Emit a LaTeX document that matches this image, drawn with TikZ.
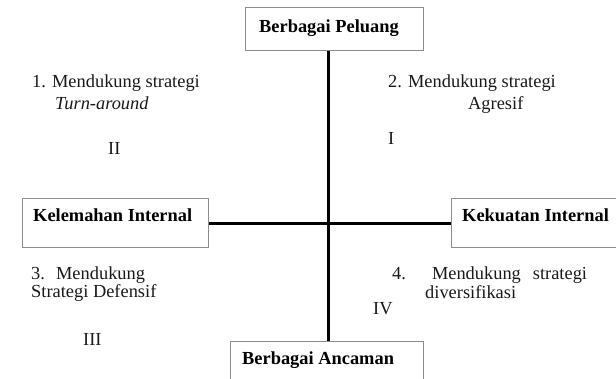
\documentclass[tikz,border=0pt]{standalone}
\usepackage{fontspec}
\setmainfont{Liberation Serif}
\definecolor{boxgray}{RGB}{140,140,140}
\definecolor{ink}{RGB}{25,25,25}
\begin{document}
\begin{tikzpicture}[x=1pt,y=-1pt,
  box/.style={draw=boxgray, line width=1.2pt, fill=white, rectangle, inner sep=0pt, anchor=north west},
  lbl/.style={anchor=base west, inner sep=0pt, text=ink, font=\fontsize{18.4}{22}\selectfont},
  blbl/.style={anchor=base west, inner sep=0pt, text=black, font=\fontsize{18.4}{22}\selectfont\bfseries},
  axisline/.style={line width=3pt, black}]
\useasboundingbox (0,0) rectangle (616,379);
% boxes
\node[box, minimum width=178pt, minimum height=43pt] (top) at (245,7) {};
\node[box, minimum width=186pt, minimum height=49pt] (left) at (22,198) {};
\node[box, minimum width=180pt, minimum height=49pt] (right) at (451,198) {};
\node[box, minimum width=193pt, minimum height=60pt] (bot) at (230,341) {};
% axes
\coordinate (cx) at (328,0);
\coordinate (cy) at (0,224);
\draw[axisline] (top.south -| cx) -- (bot.north -| cx);
\draw[axisline] (left.east |- cy) -- (right.west |- cy);
% box labels
\node[blbl] (tlab) at (259,33) {Berbagai Peluang};
\node[blbl] (llab) at (33,222) {Kelemahan Internal};
\node[blbl] (rlab) at (462,222) {Kekuatan Internal};
\node[blbl] (blab) at (242,365) {Berbagai Ancaman};
% quadrant texts
\node[lbl] (q1a) at (32,88) {1. Mendukung strategi};
\node[lbl] (q1b) at (55,110) {\itshape Turn-around};
\node[lbl] (q1c) at (108,155) {II};
\node[lbl] (q2a) at (388,88) {2. Mendukung strategi};
\node[lbl] (q2b) at (468,110) {Agresif};
\node[lbl] (q2c) at (388,145) {I};
\node[lbl] (q3a) at (31,280) {3.\hspace{5pt} Mendukung};
\node[lbl] (q3b) at (31,298) {Strategi Defensif};
\node[lbl] (q3c) at (83,345) {III};
\node[lbl] (q4a) at (392,280) {4.\hspace{26pt}Mendukung\hspace{12pt}strategi};
\node[lbl] (q4b) at (425,299) {diversifikasi};
\node[lbl] (q4c) at (373,315) {IV};
\end{tikzpicture}
\end{document}
